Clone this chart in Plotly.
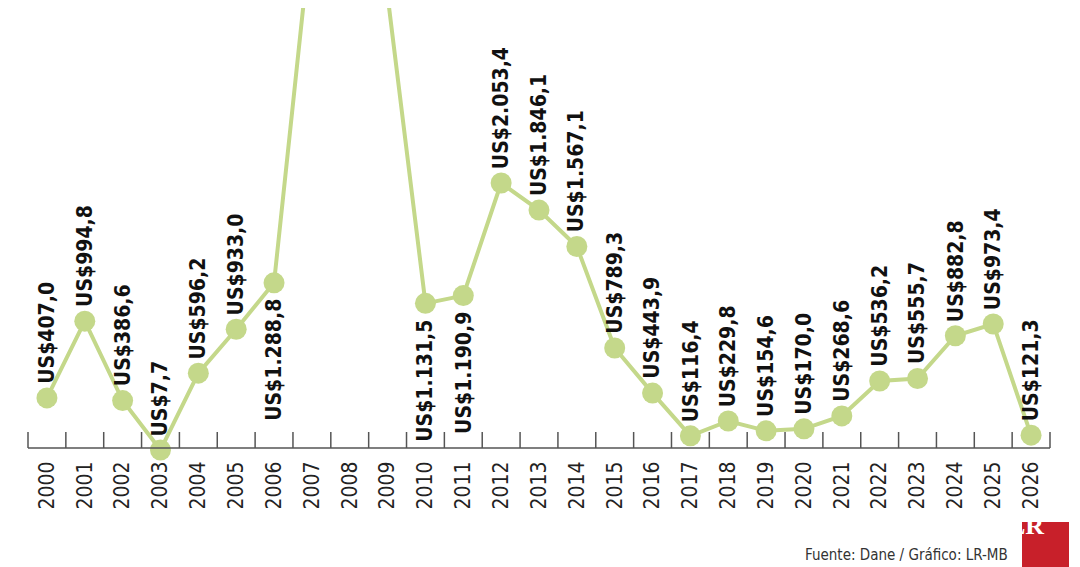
import plotly.graph_objects as go

years = [str(y) for y in range(2000, 2027)]
values = [407.0, 994.8, 386.6, 7.7, 596.2, 933.0, 1288.8, 4030, 4200, 3490,
          1131.5, 1190.9, 2053.4, 1846.1, 1567.1, 789.3, 443.9, 116.4, 229.8,
          154.6, 170.0, 268.6, 536.2, 555.7, 882.8, 973.4, 121.3]
labels = ["US$407,0", "US$994,8", "US$386,6", "US$7,7", "US$596,2", "US$933,0",
          "US$1.288,8", "", "", "", "US$1.131,5", "US$1.190,9", "US$2.053,4",
          "US$1.846,1", "US$1.567,1", "US$789,3", "US$443,9", "US$116,4",
          "US$229,8", "US$154,6", "US$170,0", "US$268,6", "US$536,2", "US$555,7",
          "US$882,8", "US$973,4", "US$121,3"]
below = {"2006", "2010", "2011"}

x = list(range(len(years)))
GREEN = "#c4d88a"
LFONT = "DejaVu Sans Condensed"

# page body has an 8px margin; work in page pixels and shift
OFF = 8
W, H = 1080 - OFF, 567 - OFF
def px(v): return (v - OFF) / W
def py(v): return 1 - (v - OFF) / H

fig = go.Figure(go.Scatter(
    x=x, y=values, mode="lines+markers",
    line=dict(color=GREEN, width=4),
    marker=dict(color=GREEN, size=21),
    cliponaxis=False, hoverinfo="skip"))

for i, (yr, v, lab) in enumerate(zip(years, values, labels)):
    if not lab:
        continue
    if yr in below:
        fig.add_annotation(x=i, y=v, text="<b>" + lab + "</b>", textangle=-90,
                           showarrow=False, yanchor="top", yshift=-14,
                           font=dict(family=LFONT, size=21, color="#111"))
    else:
        fig.add_annotation(x=i, y=v, text="<b>" + lab + "</b>", textangle=-90,
                           showarrow=False, yanchor="bottom", yshift=12,
                           font=dict(family=LFONT, size=21, color="#111"))

# y value v sits at page pixel 451 - 0.1305*v ; axis line at 448
ylo = -40.0
ybot_px = 451 + 0.1305 * 40  # pixel for ylo
yhi = (451 - OFF) / 0.1305
fig.update_layout(
    width=W, height=H, margin=dict(l=0, r=0, t=0, b=0),
    paper_bgcolor="white", plot_bgcolor="white", showlegend=False,
    xaxis=dict(domain=[px(28), px(1050)], range=[-0.5, 26.5], tickmode="array",
               tickvals=x, ticktext=years, tickangle=-90, ticks="",
               tickfont=dict(family=LFONT, size=21, color="#222"),
               showgrid=False, zeroline=False, showline=False,
               minor=dict(ticks="inside", ticklen=16, tickcolor="#555",
                          tickwidth=1.5, tick0=-0.5, dtick=1, showgrid=False)),
    yaxis=dict(domain=[py(ybot_px), 1], range=[ylo, yhi], visible=False),
)
# axis baseline at pixel 448
fig.add_shape(type="line", xref="paper", yref="paper", x0=px(28), x1=px(1050),
              y0=py(448), y1=py(448), line=dict(color="#555", width=1.5))
for k in range(len(years) + 1):
    xx = 28 + k * (1022 / 27)
    fig.add_shape(type="line", xref="paper", yref="paper", x0=px(xx), x1=px(xx),
                  y0=py(448), y1=py(432), line=dict(color="#555", width=1.5))
fig.update_xaxes(minor=dict(ticks=""), side="bottom")

fig.add_annotation(xref="paper", yref="paper", x=px(1010), y=py(555),
                   xanchor="right", yanchor="middle", showarrow=False,
                   text="Fuente: Dane / Gráfico: LR-MB",
                   font=dict(family=LFONT, size=15, color="#333"))
fig.add_shape(type="rect", xref="paper", yref="paper",
              x0=px(1022), x1=px(1069), y0=0, y1=py(522),
              fillcolor="#c8202a", line=dict(width=0))
fig.add_annotation(xref="paper", yref="paper", x=px(1045.5), y=py(542),
                   showarrow=False, text="<b>LR</b>",
                   font=dict(family="Liberation Serif", size=26, color="white"))

fig.write_html("out.html")
